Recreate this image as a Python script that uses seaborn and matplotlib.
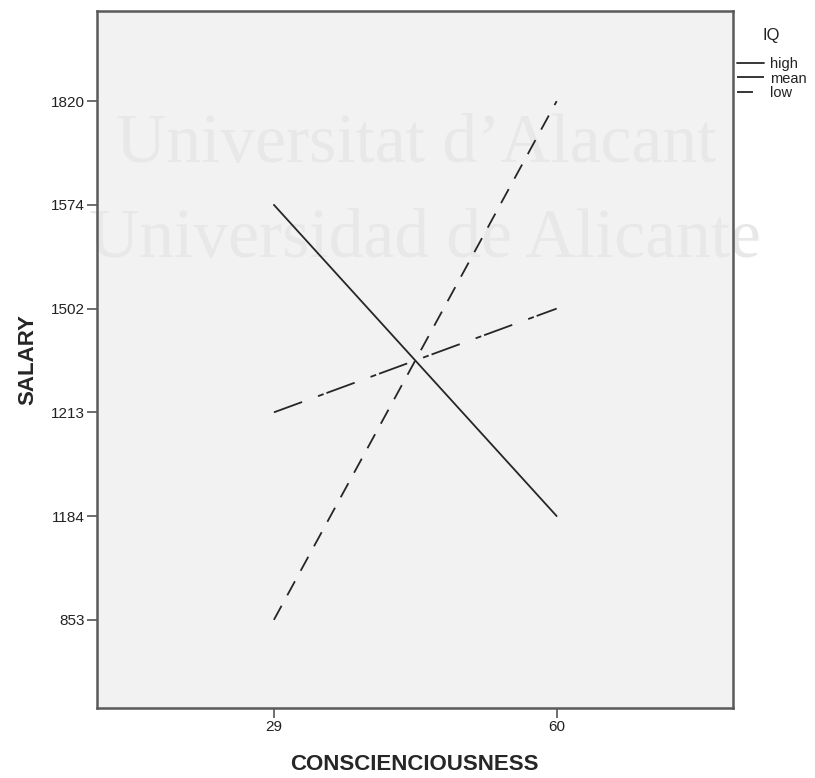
import numpy as np
import pandas as pd
import matplotlib
matplotlib.use("Agg")
import matplotlib.pyplot as plt
import seaborn as sns

# ── Data ───────────────────────────────────────────────────
consc_levels  = [29, 60]
salary_ticks  = [853, 1184, 1213, 1502, 1574, 1820]   # evenly spaced labels on the axis
iq_groups     = ["high", "mean", "low"]
salary_high   = [1574, 1184]
salary_mean   = [1213, 1502]
salary_low    = [853, 1820]

rows = []
for grp, vals in zip(iq_groups, [salary_high, salary_mean, salary_low]):
    for c, s in zip(consc_levels, vals):
        rows.append({"CONSCIENCIOUSNESS": c, "SALARY": s, "IQ": grp})
df = pd.DataFrame(rows)
# SPSS put the salary values on an ordinal (evenly spaced) axis
df["pos"] = df["SALARY"].map({v: i for i, v in enumerate(salary_ticks)})

# ── Style ──────────────────────────────────────────────────
sns.set_style("white")
plt.rcParams["font.family"] = ["Liberation Sans", "DejaVu Sans"]
plt.rcParams["lines.scale_dashes"] = False

LINE_COL = "#262626"
dash_map = {"high": "", "mean": (21.6, 12.2, 4.3, 2.2), "low": (11.5, 8.6)}

fig = plt.figure(figsize=(8.15, 7.78), dpi=100)
ax = fig.add_axes([0.119, 0.090, 0.780, 0.896])
ax.set_facecolor("#f2f2f2")

sns.lineplot(data=df, x="CONSCIENCIOUSNESS", y="pos", hue="IQ", style="IQ",
             hue_order=iq_groups, style_order=iq_groups,
             palette={g: LINE_COL for g in iq_groups}, dashes=dash_map,
             linewidth=1.3, legend=False, ax=ax, zorder=3)

# faint watermark behind the lines
for txt, xx, yy in [("Universitat d\u2019Alacant", 0.510, 0.792),
                    ("Universidad de Alicante", 0.522, 0.670)]:
    ax.text(xx, yy, txt, transform=fig.transFigure, family="Liberation Serif",
            fontsize=50, color="#e8e8e8", ha="center", va="baseline",
            zorder=0.5, clip_on=False)

ax.set_xlim(9.6, 79.3)
ax.set_ylim(-0.85, 5.87)
ax.set_xticks(consc_levels)
ax.set_xticklabels([str(c) for c in consc_levels], fontsize=11)
ax.set_yticks(range(len(salary_ticks)))
ax.set_yticklabels([str(s) for s in salary_ticks], fontsize=11)
ax.tick_params(axis="both", direction="out", length=7, width=1.2,
               color="#555555", labelcolor="#222222", pad=2, left=True, bottom=True)

for sp in ax.spines.values():
    sp.set_visible(True)
    sp.set_color("#5a5a5a")
    sp.set_linewidth(1.8)

ax.set_xlabel("CONSCIENCIOUSNESS", fontsize=16, fontweight="bold", labelpad=14)
ax.set_ylabel("SALARY", fontsize=16, fontweight="bold", labelpad=9)

# legend to the right of the plot, title placed separately like SPSS
fig.text(0.935, 0.955, "IQ", fontsize=12, ha="left", va="center", color="#222222")
handles = ax.get_lines()[:3]
leg = fig.legend(handles, iq_groups, loc="upper left",
                 bbox_to_anchor=(0.904, 0.927), frameon=False, fontsize=10.5,
                 handlelength=1.85, handletextpad=0.4, labelspacing=0.05,
                 borderaxespad=0, borderpad=0)
for t in leg.get_texts():
    t.set_color("#222222")

plt.savefig("out.png", dpi=100)
plt.close()
